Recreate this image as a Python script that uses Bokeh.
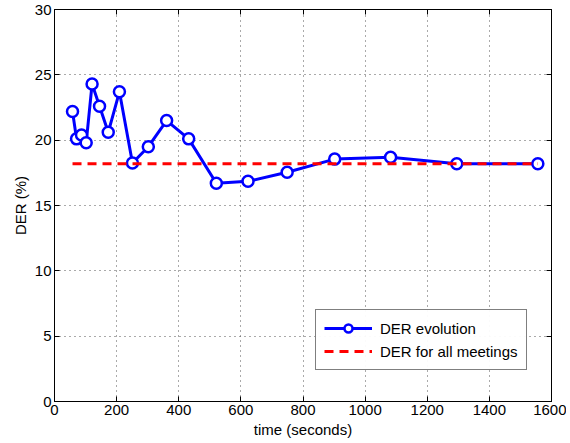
from bokeh.plotting import figure
from bokeh.models import Range1d, LinearAxis, Legend, LegendItem, FixedTicker
from bokeh.embed import file_html
from bokeh.resources import INLINE

time_s = [58, 71, 87, 102, 121, 145, 173, 209, 251, 302, 361, 432, 521, 623, 749, 902, 1082, 1295, 1556]
der = [22.2, 20.1, 20.4, 19.8, 24.3, 22.6, 20.6, 23.7, 18.25, 19.5, 21.5, 20.1, 16.7, 16.85, 17.55, 18.55, 18.7, 18.2, 18.2]
der_all = 18.2
der_all_x = [58, 1556]
x_ticks = [0, 200, 400, 600, 800, 1000, 1200, 1400, 1600]
y_ticks = [0, 5, 10, 15, 20, 25, 30]

FONT = "Liberation Sans"
FS = "15px"

p = figure(width=566, height=440, output_backend="svg", toolbar_location=None,
           x_range=Range1d(0, 1600), y_range=Range1d(0, 30),
           min_border_left=54, min_border_right=15, min_border_top=9, min_border_bottom=38)
p.outline_line_color = "black"
p.outline_line_width = 1
p.background_fill_color = "white"
p.border_fill_color = "white"

for ax, ticks in ((p.xaxis[0], x_ticks), (p.yaxis[0], y_ticks)):
    ax.ticker = FixedTicker(ticks=ticks)
    ax.major_tick_in = 5
    ax.major_tick_out = 0
    ax.minor_tick_line_color = None
    ax.axis_line_color = "black"
    ax.major_tick_line_color = "black"
    ax.major_label_text_font = FONT
    ax.major_label_text_font_size = FS
    ax.major_label_text_color = "black"
    ax.axis_label_text_font = FONT
    ax.axis_label_text_font_size = FS
    ax.axis_label_text_font_style = "normal"
    ax.axis_label_text_color = "black"
    ax.major_label_standoff = 3
    ax.axis_label_standoff = 3

p.xaxis.axis_label = "time (seconds)"
p.yaxis.axis_label = "DER (%)"

# mirror ticks on top and right (no labels)
top = LinearAxis(ticker=FixedTicker(ticks=x_ticks),
                 major_label_overrides={t: "" for t in x_ticks},
                 major_tick_in=5, major_tick_out=0, minor_tick_line_color=None,
                 major_tick_line_color="black", major_label_standoff=0)
right = LinearAxis(ticker=FixedTicker(ticks=y_ticks),
                   major_label_overrides={t: "" for t in y_ticks},
                   major_tick_in=5, major_tick_out=0, minor_tick_line_color=None,
                   major_tick_line_color="black", major_label_standoff=0)
p.add_layout(top, "above")
p.add_layout(right, "right")

p.xgrid[0].ticker = FixedTicker(ticks=x_ticks)
p.ygrid[0].ticker = FixedTicker(ticks=y_ticks)
for g in (p.xgrid[0], p.ygrid[0]):
    g.grid_line_color = "#555555"
    g.grid_line_dash = "1 4"
    g.grid_line_width = 1

ln = p.line(time_s, der, line_color="blue", line_width=3)
sc = p.scatter(time_s, der, size=11, marker="circle", line_color="blue", line_width=2.5,
               fill_color="white")
dash = p.line(der_all_x, [der_all, der_all], line_color="red", line_width=3, line_dash="9 6")

legend = Legend(items=[LegendItem(label="DER evolution", renderers=[ln, sc]),
                       LegendItem(label="DER for all meetings", renderers=[dash])],
                location=(261, 31))
legend.label_text_font = FONT
legend.label_text_font_size = FS
legend.label_text_color = "black"
legend.glyph_width = 48
legend.glyph_height = 20
legend.spacing = 3
legend.padding = 8
legend.margin = 0
legend.border_line_color = "black"
legend.border_line_width = 1
legend.label_standoff = 8
p.add_layout(legend, "center")

open("out.html", "w").write(file_html(p, INLINE))
